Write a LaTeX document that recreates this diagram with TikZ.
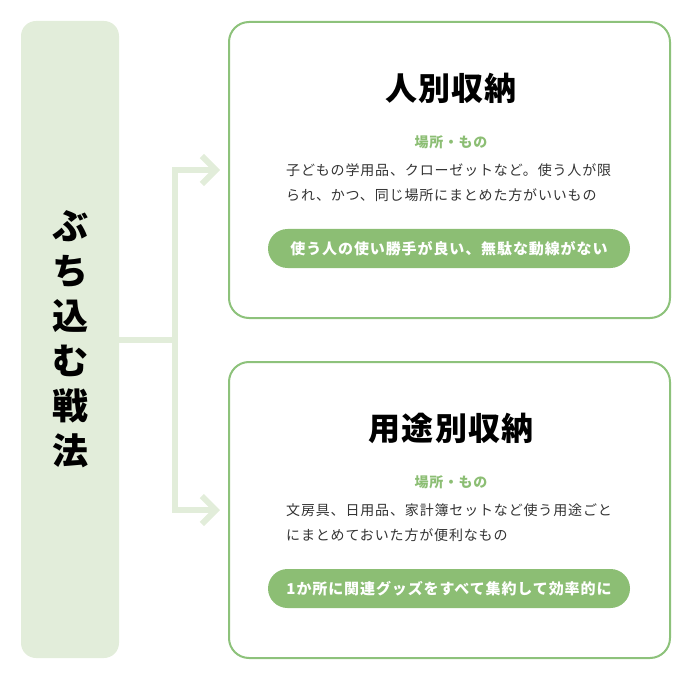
\documentclass[tikz,border=0pt]{standalone}
\usepackage{fontspec}
\setmainfont{Noto Sans CJK JP}
\usetikzlibrary{arrows.meta,positioning}
\definecolor{leaf-pale}{HTML}{E2EDDA}
\definecolor{leaf-line}{HTML}{8DC27B}
\definecolor{leaf-btn}{HTML}{8CBE74}
\definecolor{ink-body}{HTML}{333333}

\begin{document}
\begin{tikzpicture}[x=1pt, y=-1pt]

    \useasboundingbox (0,0) rectangle (680,679);

    % left column
    \node[fill=leaf-pale, rounded corners=15pt, minimum width=98pt, minimum height=637pt, align=center, font=\fontsize{36}{45}\selectfont\bfseries] (strat) at (70,339.5) {ぶ\\ち\\込\\む\\戦\\法};

    % the two boxes
    \node[draw=leaf-line, line width=2pt, rounded corners=20pt, minimum width=441pt, minimum height=296pt] (box1) at (449.5,170) {};
    \node[draw=leaf-line, line width=2pt, rounded corners=20pt, minimum width=441pt, minimum height=296pt] (box2) at (449.5,510) {};

    % connectors
    \coordinate (fork) at (175,339.5);
    \draw[leaf-pale, line width=6pt] (strat.east) -- (fork);
    \draw[leaf-pale, line width=6pt, -{Straight Barb[length=14pt, width=28pt]}, shorten >=8pt] (fork) |- (box1.west);
    \draw[leaf-pale, line width=6pt, -{Straight Barb[length=14pt, width=28pt]}, shorten >=8pt] (fork) |- (box2.west);

    % top box
    \node[font=\fontsize{32}{32}\selectfont\bfseries\addfontfeature{LetterSpace=4}] (title1) at (451,88) {人別収納};
    \node[text=leaf-btn, font=\fontsize{14}{14}\selectfont\bfseries\addfontfeature{LetterSpace=5}] (where1) at (451,142) {場所・もの};
    \node[anchor=west, align=left, inner sep=0pt, text=ink-body, font=\fontsize{14}{25}\selectfont\addfontfeature{LetterSpace=6}] (desc1) at (286,182.5) {子どもの学用品、クローゼットなど。使う人が限\\られ、かつ、同じ場所にまとめた方がいいもの};
    \node[fill=leaf-btn, text=white, rounded corners=19.5pt, minimum width=362pt, minimum height=39pt, font=\fontsize{15}{15}\selectfont\bfseries\addfontfeature{LetterSpace=6}] (gain1) at (449,248.5) {使う人の使い勝手が良い、無駄な動線がない};

    % bottom box
    \node[font=\fontsize{32}{32}\selectfont\bfseries\addfontfeature{LetterSpace=4}] (title2) at (451,428) {用途別収納};
    \node[text=leaf-btn, font=\fontsize{14}{14}\selectfont\bfseries\addfontfeature{LetterSpace=5}] (where2) at (451,482) {場所・もの};
    \node[anchor=west, align=left, inner sep=0pt, text=ink-body, font=\fontsize{14}{25}\selectfont\addfontfeature{LetterSpace=6}] (desc2) at (286,522.5) {文房具、日用品、家計簿セットなど使う用途ごと\\にまとめておいた方が便利なもの};
    \node[fill=leaf-btn, text=white, rounded corners=19.5pt, minimum width=362pt, minimum height=39pt, font=\fontsize{15}{15}\selectfont\bfseries\addfontfeature{LetterSpace=6}] (gain2) at (449,588.5) {1か所に関連グッズをすべて集約して効率的に};

\end{tikzpicture}
\end{document}
